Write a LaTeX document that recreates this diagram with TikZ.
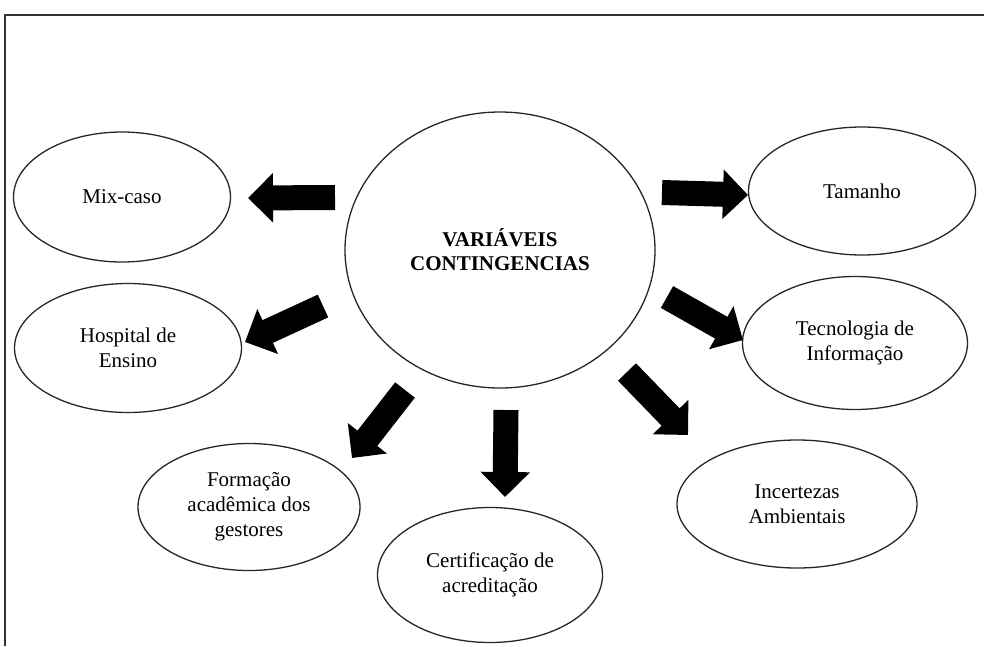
\documentclass[tikz,border=0pt]{standalone}
\usepackage{fontspec}
\setmainfont{Liberation Serif}
\usetikzlibrary{shapes.geometric,arrows.meta}
\begin{document}
\begin{tikzpicture}[x=1pt,y=-1pt,
  framelines/.style={line width=2.2pt,draw=black!80},
  bubble/.style={ellipse,draw=black!85,line width=1.3pt,inner sep=0pt,align=center,
    font=\fontsize{21}{25}\selectfont},
  hub/.style={ellipse,draw=black!85,line width=1.3pt,inner sep=0pt,align=center,
    font=\fontsize{21}{24}\selectfont\bfseries},
  blockarrow/.style={line width=25pt,draw=black,line cap=butt,
    -{Triangle[length=25pt,width=48pt]}}]
\useasboundingbox (0,0) rectangle (984,646);
% frame
\coordinate (fbl) at (5,646);
\coordinate (ftl) at (5,15);
\coordinate (ftr) at (984,15);
\draw[framelines] (fbl) -- (ftl) -- (ftr);
% central node
\node[hub,minimum width=310pt,minimum height=276pt] (c) at (500,250) {VARIÁVEIS\\CONTINGENCIAS};
% outer nodes
\node[bubble,minimum width=217pt,minimum height=130pt] (mix) at (122,197) {Mix-caso};
\node[bubble,minimum width=227pt,minimum height=129pt] (hosp) at (128,348) {Hospital de\\Ensino};
\node[bubble,minimum width=222pt,minimum height=127pt] (form) at (249,507) {Formação\\acadêmica dos\\gestores};
\node[bubble,minimum width=225pt,minimum height=135pt] (cert) at (490,575) {Certificação de\\acreditação};
\node[bubble,minimum width=240pt,minimum height=128pt] (inc) at (797,504) {Incertezas\\Ambientais};
\node[bubble,minimum width=225pt,minimum height=133pt] (tec) at (855,343) {Tecnologia de\\Informação};
\node[bubble,minimum width=227pt,minimum height=128pt] (tam) at (862,191) {Tamanho};
% arrow endpoints
\coordinate (t1) at (335,197.5); \coordinate (h1) at (248,198);
\coordinate (t2) at (323,306);   \coordinate (h2) at (245,342);
\coordinate (t3) at (405,390);   \coordinate (h3) at (352,458);
\coordinate (t4) at (506,410);   \coordinate (h4) at (505,497);
\coordinate (t5) at (627,372);   \coordinate (h5) at (688,435);
\coordinate (t6) at (667,297);   \coordinate (h6) at (743,340);
\coordinate (t7) at (662,192.5); \coordinate (h7) at (748,195);
\foreach \i in {1,...,7} {\draw[blockarrow] (t\i) -- (h\i);}
\end{tikzpicture}
\end{document}
